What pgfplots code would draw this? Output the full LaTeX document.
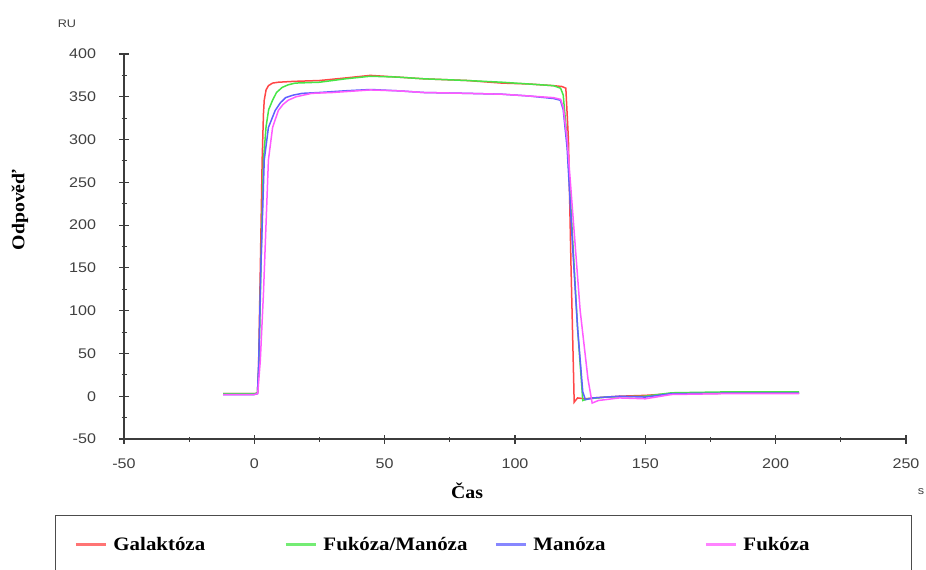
\documentclass[border=0pt]{standalone}
\usepackage{fontspec}
\setmainfont{Liberation Sans}[FakeStretch=1.15]
\newfontfamily\serifb{Liberation Serif}[FakeStretch=1.1]
\usepackage{pgfplots}
\pgfplotsset{compat=1.18}
\definecolor{gRed}{RGB}{255,70,70}
\definecolor{gGreen}{RGB}{70,230,70}
\definecolor{gBlue}{RGB}{95,95,255}
\definecolor{gMag}{RGB}{255,90,255}
\definecolor{axc}{RGB}{60,60,60}
\begin{document}
\begin{tikzpicture}
\useasboundingbox (0pt,0pt) rectangle (926pt,570pt);
\begin{axis}[
  at={(124pt,131pt)}, anchor=south west,
  scale only axis, width=782pt, height=385pt,
  xmin=-50, xmax=250, ymin=-50, ymax=400,
  axis x line=bottom, axis y line=left,
  axis line style={-, color=axc, line width=1.4pt},
  xtick={-50,0,50,100,150,200,250},
  ytick={-50,0,50,100,150,200,250,300,350,400},
  minor tick num=1,
  tick align=center,
  major tick length=9pt, minor tick length=5pt,
  every tick/.style={color=axc, line width=1.1pt},
  ticklabel style={font=\fontsize{14}{16}\selectfont, color=black!75},
  /pgf/number format/assume math mode=true,
  yticklabel style={xshift=-20pt},
  xticklabel style={yshift=-12pt},
  clip=false,
  legend columns=4,
  legend style={at={(-0.0882,-0.1974)}, anchor=north west,
    draw=black!70, line width=0.9pt, inner xsep=19pt, inner ysep=22pt,
    font=\serifb\bfseries\fontsize{19}{22}\selectfont,
    nodes={inner sep=0pt, anchor=west},
    /tikz/every even column/.append style={column sep=0pt}},
  legend image code/.code={\draw[#1, line width=3pt, opacity=0.75] (0pt,0pt) -- (30pt,0pt);},
]
\addplot[gRed, line width=1.5pt] coordinates {
(-12,3) (0,3) (1.2,3.5) (1.6,30) (2.3,150) (3,276) (3.5,330) (3.8,346) (4.5,358) (5.4,363) (7,366) (9.2,367) (15,368) (25,369) (35,372) (44.5,375) (55,373) (65,371) (81.7,369) (95,366) (105,365) (114.7,363) (118,362) (119.5,360) (120.5,300) (121.5,150) (122.5,20) (122.7,-7) (124,-2) (127,-3) (130,-2) (140,0) (150,1) (160,3) (180,3.5) (200,3.5) (209,3.5)};
\addlegendentry{\makebox[177pt][l]{\hspace{6pt}Galaktóza}}
\addplot[gGreen, line width=1.5pt] coordinates {
(-12,3) (0,3) (1.2,3.5) (1.8,40) (2.6,160) (3.5,276) (4.5,315) (5.5,335) (7,346) (8.5,355) (10.7,361) (13,364) (15.7,366) (25,367) (35,371) (44.5,374) (55,373) (65,371) (81.7,369) (95,367) (105,365) (114.7,363) (117.5,360) (118.5,352) (120,300) (122,190) (124,80) (126,-5) (128,-3) (135,-1) (150,0) (160,4) (180,5) (209,5)};
\addlegendentry{\makebox[177pt][l]{\hspace{6pt}Fukóza/Manóza}}
\addplot[gBlue, line width=1.5pt] coordinates {
(-12,2) (0,2) (1.2,3) (1.7,42) (2.5,150) (3.8,276) (5.4,314) (8,334) (10,343) (12,349) (15,352) (18.4,354) (25,355) (35,357) (44.5,358.5) (55,357) (65,355) (81.7,354) (95,353) (105,351) (114.7,348) (117.4,346) (118.5,335) (120,290) (122,180) (124,80) (126,5) (127,-4) (130,-2) (140,0) (150,-1) (160,3) (180,3.5) (209,3.5)};
\addlegendentry{\makebox[177pt][l]{\hspace{6pt}Manóza}}
\addplot[gMag, line width=1.5pt] coordinates {
(-12,2) (0,2) (1.3,3) (2.3,42) (3.5,120) (5.4,276) (7,314) (9.2,334) (11,341) (13,346) (16,350) (22,354) (30,355) (44.5,358) (55,357) (65,355) (81.7,354) (95,353) (105,351) (114.7,349) (117.5,347) (118.5,338) (120,300) (122.5,200) (125,100) (128,20) (129.6,-8) (132,-5) (140,-2) (150,-3) (160,2) (180,3) (209,3)};
\addlegendentry{\makebox[155pt][l]{\hspace{6pt}Fukóza}}
\end{axis}
\node[font=\fontsize{11}{13}\selectfont, color=black!75] at (67pt,546pt) {RU};
\node[font=\fontsize{11}{13}\selectfont, color=black!75] at (921pt,78pt) {s};
\node[font=\serifb\bfseries\fontsize{18}{20}\selectfont, rotate=90] at (20pt,360pt) {Odpověď};
\node[font=\serifb\bfseries\fontsize{18}{20}\selectfont] at (467pt,79pt) {Čas};
\end{tikzpicture}
\end{document}
